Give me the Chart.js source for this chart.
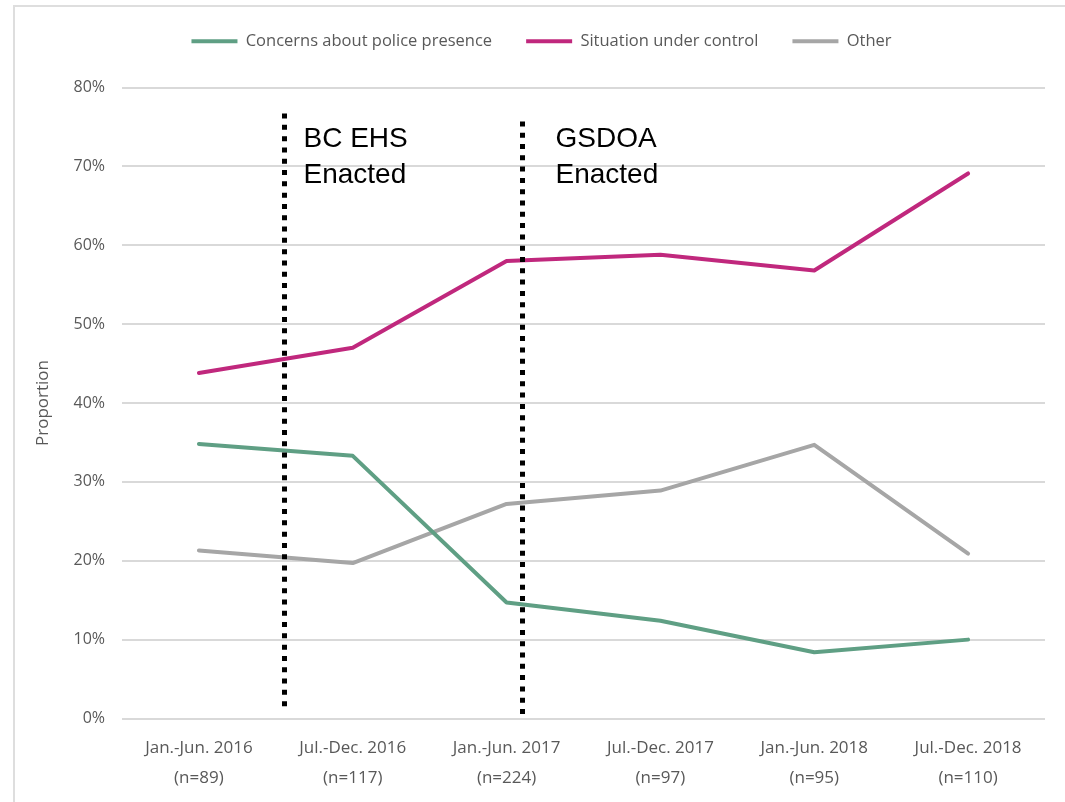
<!DOCTYPE html>
<html>
<head>
<meta charset="utf-8">
<script src="https://cdn.jsdelivr.net/npm/chart.js@4.4.0/dist/chart.umd.min.js"></script>
<style>
  html, body { margin: 0; padding: 0; background: #fff; }
  #wrap { position: relative; width: 1065px; height: 802px; }
</style>
</head>
<body>
<div id="wrap"><canvas id="chart"></canvas></div>
<script>
// reporting periods and number of responses in each
const periods = ['Jan.-Jun. 2016', 'Jul.-Dec. 2016', 'Jan.-Jun. 2017', 'Jul.-Dec. 2017', 'Jan.-Jun. 2018', 'Jul.-Dec. 2018'];
const sampleSizes = [89, 117, 224, 97, 95, 110];

// share of answers, in percent
const policeConcerns = [34.8, 33.3, 14.7, 12.4, 8.4, 10.0];
const underControl = [43.8, 47.0, 58.0, 58.8, 56.8, 69.1];
const otherReasons = [21.3, 19.7, 27.2, 28.9, 34.7, 20.9];

const seriesNames = ['Concerns about police presence', 'Situation under control', 'Other'];
const yTicks = [0, 10, 20, 30, 40, 50, 60, 70, 80];

// policy dates, placed on the period axis (index units), with the vertical span in percent
const policyEvents = [
  { at: 0.55, from: 1.3, to: 76.7, dx: 19, text: ['BC EHS', 'Enacted'] },
  { at: 2.1, from: 0.5, to: 75.7, dx: 33, text: ['GSDOA', 'Enacted'] }
];
const policyTextTop = 76.7;

const GREEN = '#5f9f84';
const PINK = '#c0287d';
const GREY = '#a6a6a6';
const TEXT = '#595959';
const UI_FONT = '"Open Sans", "DejaVu Sans", sans-serif';

const xLabels = periods.map((p, i) => [p, '(n=' + sampleSizes[i] + ')']);

// light frame on the left and top edge
const framePlugin = {
  id: 'frame',
  beforeDraw(chart) {
    const { ctx } = chart;
    ctx.save();
    ctx.strokeStyle = '#dedede';
    ctx.lineWidth = 2;
    ctx.beginPath();
    ctx.moveTo(14, chart.height);
    ctx.lineTo(14, 6);
    ctx.lineTo(chart.width, 6);
    ctx.stroke();
    ctx.restore();
  }
};

// dotted markers for when each policy came in
const policyPlugin = {
  id: 'policy',
  afterDatasetsDraw(chart) {
    const { ctx } = chart;
    const x = chart.scales.x;
    const y = chart.scales.y;
    const textY = y.getPixelForValue(policyTextTop);

    ctx.save();
    for (const ev of policyEvents) {
      const px = Math.round(x.getPixelForValue(ev.at)) + 0.5;

      ctx.strokeStyle = '#000';
      ctx.lineWidth = 5;
      ctx.lineCap = 'butt';
      ctx.setLineDash([5, 6.3]);
      ctx.beginPath();
      ctx.moveTo(px, y.getPixelForValue(ev.to));
      ctx.lineTo(px, y.getPixelForValue(ev.from));
      ctx.stroke();

      ctx.setLineDash([]);
      ctx.fillStyle = '#000';
      ctx.font = '28px "Liberation Sans", Arial, sans-serif';
      ctx.textAlign = 'left';
      ctx.textBaseline = 'alphabetic';
      ev.text.forEach((line, i) => {
        ctx.fillText(line, px + ev.dx, textY + 33 + i * 36);
      });
    }
    ctx.restore();
  }
};

const makeSeries = (label, data, color) => ({
  label,
  data,
  borderColor: color,
  backgroundColor: color,
  borderWidth: 4,
  pointRadius: 0,
  tension: 0,
  fill: false,
  borderCapStyle: 'round',
  borderJoinStyle: 'round'
});

const chart = new Chart(document.getElementById('chart'), {
  type: 'line',
  data: {
    labels: xLabels,
    datasets: [
      makeSeries(seriesNames[0], policeConcerns, GREEN),
      makeSeries(seriesNames[1], underControl, PINK),
      makeSeries(seriesNames[2], otherReasons, GREY)
    ]
  },
  options: {
    responsive: true,
    maintainAspectRatio: false,
    animation: false,
    layout: {
      padding: { left: 38, right: 20, top: -1, bottom: 2 }
    },
    plugins: {
      tooltip: { enabled: false },
      legend: {
        position: 'top',
        labels: {
          boxWidth: 46,
          boxHeight: 4,
          padding: 34,
          color: TEXT,
          font: { family: UI_FONT, size: 16.5 },
          generateLabels: (c) => Chart.defaults.plugins.legend.labels.generateLabels(c)
            .map(item => ({ ...item, lineWidth: 0, fillStyle: item.strokeStyle }))
        }
      },
      // empty box between legend and plot, keeps the gap below the legend
      subtitle: {
        display: true,
        text: '',
        weight: 500,
        font: { size: 1, lineHeight: 1 },
        padding: { top: 0, bottom: 27 }
      }
    },
    scales: {
      x: {
        offset: true,
        grid: { display: false },
        border: { display: false },
        ticks: {
          autoSkip: false,
          maxRotation: 0,
          padding: 7,
          color: TEXT,
          font: { family: UI_FONT, size: 17, lineHeight: 1.75 }
        }
      },
      y: {
        min: yTicks[0],
        max: yTicks[yTicks.length - 1],
        afterFit(scale) { scale.width = 84; },
        afterBuildTicks(scale) { scale.ticks = yTicks.map(v => ({ value: v })); },
        grid: { color: '#d9d9d9', lineWidth: 2, drawTicks: false },
        border: { display: false },
        ticks: {
          padding: 17,
          color: TEXT,
          font: { family: UI_FONT, size: 16 },
          callback: (v) => v + '%'
        },
        title: {
          display: true,
          text: 'Proportion',
          color: TEXT,
          padding: { top: -5, bottom: 0 },
          font: { family: UI_FONT, size: 17 }
        }
      }
    }
  },
  plugins: [framePlugin, policyPlugin]
});
</script>
</body>
</html>
